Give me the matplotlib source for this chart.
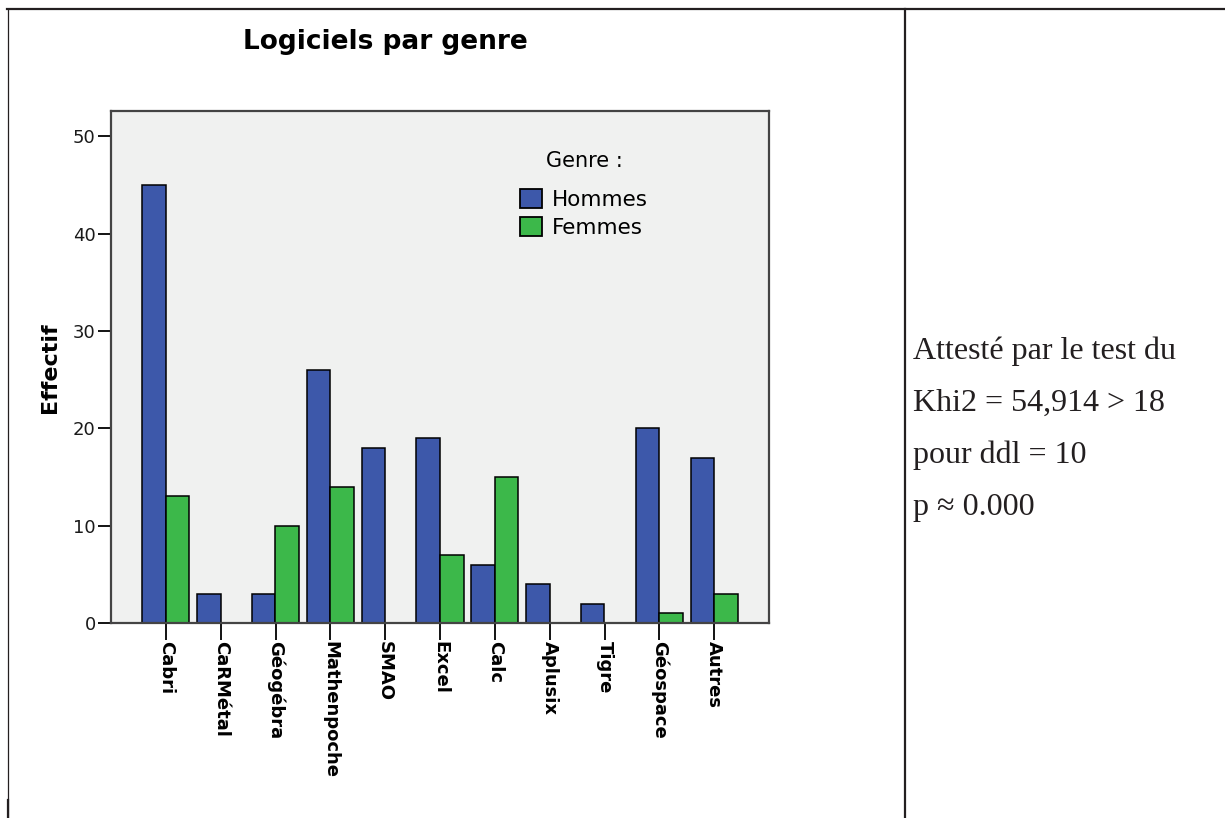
import numpy as np
import matplotlib.pyplot as plt
from matplotlib.lines import Line2D

logiciels = ['Cabri', 'CaRMétal', 'Géogébra', 'Mathenpoche', 'SMAO', 'Excel',
             'Calc', 'Aplusix', 'Tigre', 'Géospace', 'Autres']
hommes = [45, 3, 3, 26, 18, 19, 6, 4, 2, 20, 17]
femmes = [13, 0, 10, 14, 0, 7, 15, 0, 0, 1, 3]
yticks = [0, 10, 20, 30, 40, 50]
note_lines = ['Attesté par le test du', 'Khi2 = 54,914 > 18',
              'pour ddl = 10', 'p ≈ 0.000']

W, H = 1225, 818
BLUE = '#3d58aa'
GREEN = '#3cb84a'
INK = '#231f20'

plt.rcParams['font.family'] = 'DejaVu Sans'

fig = plt.figure(figsize=(W / 100, H / 100), dpi=100)
fig.patch.set_facecolor('white')


def fx(px):
    return px / W


def fy(py):
    return 1 - py / H


# axes box in pixel coords: left 111, right 769, top 111, bottom 623
ax = fig.add_axes([fx(111), fy(623), fx(769) - fx(111), fy(111) - fy(623)])
ax.set_facecolor('#f0f1f0')

x = np.arange(len(logiciels))
w = 0.43
ax.bar(x - w / 2, hommes, w, color=BLUE, edgecolor='black', linewidth=1.1,
       label='Hommes')
ax.bar(x + w / 2, femmes, w, color=GREEN, edgecolor='black', linewidth=1.1,
       label='Femmes')

ax.set_xlim(-1, len(logiciels))
ax.set_ylim(0, 52.6)
ax.set_yticks(yticks)
ax.set_xticks(x)
ax.set_xticklabels(logiciels, rotation=270, fontweight='bold', fontsize=13,
                   va='top', ha='center')
ax.tick_params(axis='y', length=9.5, width=1.3, pad=1.5, labelsize=13,
               labelcolor='#1a1a1a')
ax.tick_params(axis='x', length=12, width=1.3, pad=1)
for s in ax.spines.values():
    s.set_color('#444444')
    s.set_linewidth(1.6)

leg = ax.legend(title='Genre :', loc='upper left',
                bbox_to_anchor=(fx(520), fy(151)),
                bbox_transform=fig.transFigure, frameon=False,
                fontsize=15.5, title_fontsize=15, handlelength=1.0,
                handleheight=1.0, handletextpad=0.5, labelspacing=0.3,
                borderpad=0, borderaxespad=0)
leg._legend_box.sep = 13
for p in leg.get_patches():
    p.set_linewidth(1.3)

fig.text(fx(385), fy(42), 'Logiciels par genre', fontsize=19,
         fontweight='bold', ha='center', va='center')
fig.text(fx(50), fy(368), 'Effectif', fontsize=16, fontweight='bold',
         rotation=90, ha='center', va='center')

# right cell text
for i, line in enumerate(note_lines):
    fig.text(fx(913), fy(359 + 52 * i), line, fontsize=23,
             family='Liberation Serif', color=INK, ha='left',
             va='baseline')

# table frame
fig.add_artist(Line2D([fx(7), 1], [fy(9), fy(9)], color=INK, lw=1.6))
fig.add_artist(Line2D([fx(8), fx(8)], [fy(9), 0], color=INK, lw=0.9))
fig.add_artist(Line2D([fx(8), fx(8)], [fy(800), 0], color=INK, lw=1.6))
fig.add_artist(Line2D([fx(905), fx(905)], [fy(9), 0], color=INK, lw=1.6))

fig.savefig('out.png', dpi=100)
